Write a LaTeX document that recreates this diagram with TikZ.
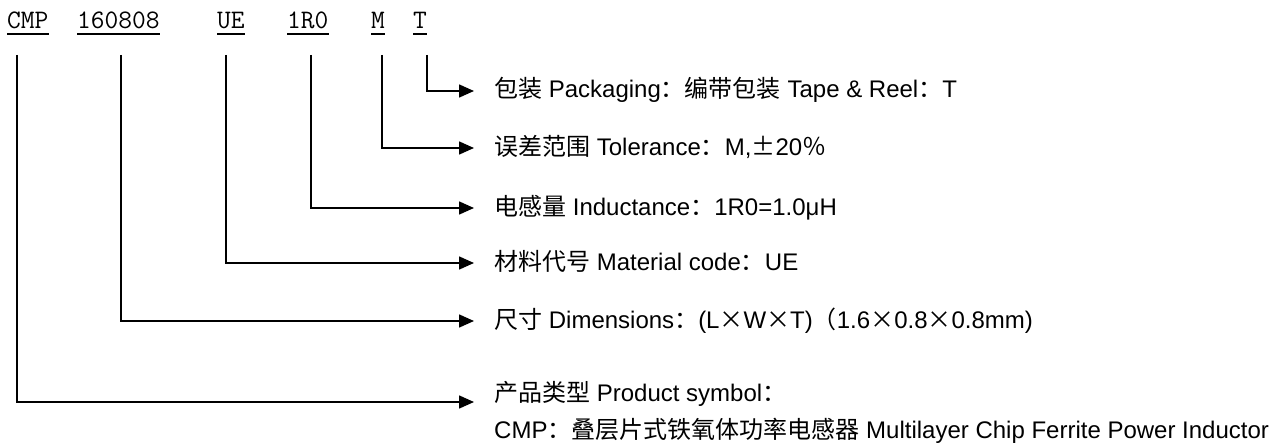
\documentclass[tikz,border=0pt]{standalone}
\usepackage{fontspec}
\setmainfont{Liberation Sans}
\newfontfamily\cjk{Noto Sans CJK SC}
\usetikzlibrary{arrows.meta}
\begin{document}
\begin{tikzpicture}[x=1pt,y=-1pt,
  conn/.style={line width=1.6pt, -{Triangle[length=15pt,width=13pt]}, shorten >=20pt},
  code/.style={anchor=base west, inner sep=0pt, font=\fontsize{26.7}{30}\selectfont\ttfamily},
  desc/.style={anchor=west, inner sep=0pt, text height=16pt, text depth=2pt, font=\fontsize{24}{28}\selectfont},
  uline/.style={line width=1.5pt}]
\useasboundingbox (0,0) rectangle (1286,444);
% code labels
\node[code] (lC) at (7,29) {CMP};
\node[code] (lS) at (77,29) {160808};
\node[code] (lU) at (217,29) {UE};
\node[code] (lR) at (287,29) {1R0};
\node[code] (lM) at (371,29) {M};
\node[code] (lT) at (413,29) {T};
\foreach \n in {lC,lS,lU,lR,lM,lT}
  \draw[uline] ([yshift=-5pt]\n.base west) -- ([yshift=-5pt]\n.base east);
% descriptions
\node[desc] (dT) at (494,91) {{\cjk 包装} Packaging{\cjk ：编带包装} Tape \& Reel{\cjk ：}T};
\node[desc] (dM) at (494,148) {{\cjk 误差范围} Tolerance{\cjk ：}M,{\cjk ±}20{\cjk ％}};
\node[desc] (dR) at (494,208) {{\cjk 电感量} Inductance{\cjk ：}1R0=1.0μH};
\node[desc] (dU) at (494,263) {{\cjk 材料代号} Material code{\cjk ：}UE};
\node[desc] (dS) at (494,321) {{\cjk 尺寸} Dimensions{\cjk ：}(L{\cjk ×}W{\cjk ×}T){\cjk （}1.6{\cjk ×}0.8{\cjk ×}0.8mm)};
\node[desc, anchor=base west] (dC) at (494,401) {{\cjk 产品类型} Product symbol{\cjk ：}};
\node[desc, anchor=base west] (dC2) at (494,438) {CMP{\cjk ：叠层片式铁氧体功率电感器} Multilayer Chip Ferrite Power Inductor};
% tick starts
\coordinate (tT) at (427,55);
\coordinate (tM) at (382,55);
\coordinate (tR) at (311,55);
\coordinate (tU) at (226,55);
\coordinate (tS) at (121,55);
\coordinate (tC) at (17,55);
% connectors
\draw[conn] (tT) |- (dT.west);
\draw[conn] (tM) |- (dM.west);
\draw[conn] (tR) |- (dR.west);
\draw[conn] (tU) |- (dU.west);
\draw[conn] (tS) |- (dS.west);
\draw[conn] (tC) |- ([yshift=-1pt]dC.base west);
\end{tikzpicture}
\end{document}
